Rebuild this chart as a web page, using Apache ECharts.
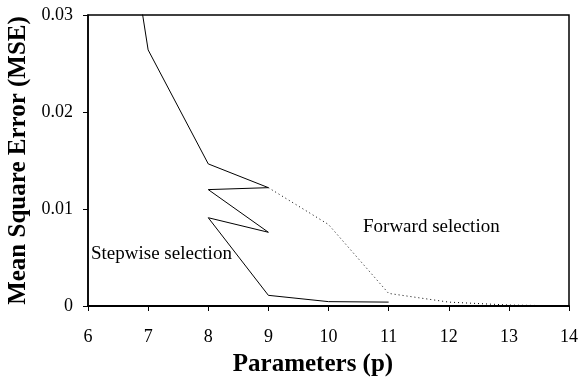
<!DOCTYPE html>
<html>
<head>
<meta charset="utf-8">
<script src="https://cdn.jsdelivr.net/npm/echarts@6/dist/echarts.min.js"></script>
<style>
  html, body { margin: 0; padding: 0; background: #fff; }
  #chart { width: 579px; height: 380px; }
</style>
</head>
<body>
<div id="chart"></div>
<script>
// 逐步选择（实线）与前向选择（虚线）的 MSE
const stepwiseP = [6, 7, 8, 9, 8, 9, 8, 9, 10, 11]
const stepwiseMse = [0.066, 0.0264, 0.01465, 0.0122, 0.0120, 0.0076, 0.0091, 0.0011, 0.00045, 0.0004]
const forwardP = [9, 10, 11, 12, 13, 14]
const forwardMse = [0.0122, 0.0084, 0.0013, 0.0004, 0.0001, 0.0]
const xTicks = [6, 7, 8, 9, 10, 11, 12, 13, 14]
const yTicks = [0, 0.01, 0.02, 0.03]

const pairs = (xs, ys) => xs.map((x, i) => [x, ys[i]])
const serif = 'Liberation Serif'

const myChart = echarts.init(document.getElementById('chart'))
myChart.setOption({
  animation: false,
  grid: {
    left: 88,
    right: 10,
    top: 15,
    bottom: 74,
    containLabel: false,
    outerBoundsMode: 'none',
    show: true,
    borderColor: '#000',
    borderWidth: 1.5
  },
  xAxis: {
    type: 'value',
    min: xTicks[0],
    max: xTicks[xTicks.length - 1],
    interval: 1,
    name: 'Parameters (p)',
    nameLocation: 'middle',
    nameGap: 46,
    nameTextStyle: { fontFamily: serif, fontWeight: 'bold', fontSize: 25, color: '#000', padding: [0, 31, 0, 0] },
    axisLine: { lineStyle: { color: '#000', width: 2 } },
    axisTick: { inside: false, length: 5, lineStyle: { color: '#000' } },
    axisLabel: { fontFamily: serif, fontSize: 18, color: '#000', margin: 22 },
    splitLine: { show: false }
  },
  yAxis: {
    type: 'value',
    min: yTicks[0],
    max: yTicks[yTicks.length - 1],
    interval: 0.01,
    name: 'Mean Square Error (MSE)',
    nameLocation: 'middle',
    nameGap: 50,
    nameTextStyle: { fontFamily: serif, fontWeight: 'bold', fontSize: 25, color: '#000' },
    axisLine: { show: true, lineStyle: { color: '#000', width: 1.5 } },
    axisTick: { show: true, inside: false, length: 5, lineStyle: { color: '#000' } },
    axisLabel: {
      fontFamily: serif, fontSize: 18, color: '#000', margin: 15,
      formatter: v => v === 0 ? '0' : v.toFixed(2)
    },
    splitLine: { show: false }
  },
  series: [
    {
      name: 'Stepwise selection',
      type: 'line',
      clip: true,
      showSymbol: false,
      lineStyle: { color: '#000', width: 1 },
      data: pairs(stepwiseP, stepwiseMse)
    },
    {
      name: 'Forward selection',
      type: 'line',
      clip: true,
      showSymbol: false,
      lineStyle: { color: '#000', width: 1, type: [1, 3] },
      data: pairs(forwardP, forwardMse)
    }
  ],
  graphic: [
    {
      type: 'text', left: 91, top: 245,
      style: { text: 'Stepwise selection', font: '19px "Liberation Serif"', fill: '#000' }
    },
    {
      type: 'text', left: 363, top: 218,
      style: { text: 'Forward selection', font: '19px "Liberation Serif"', fill: '#000' }
    }
  ]
})
</script>
</body>
</html>
